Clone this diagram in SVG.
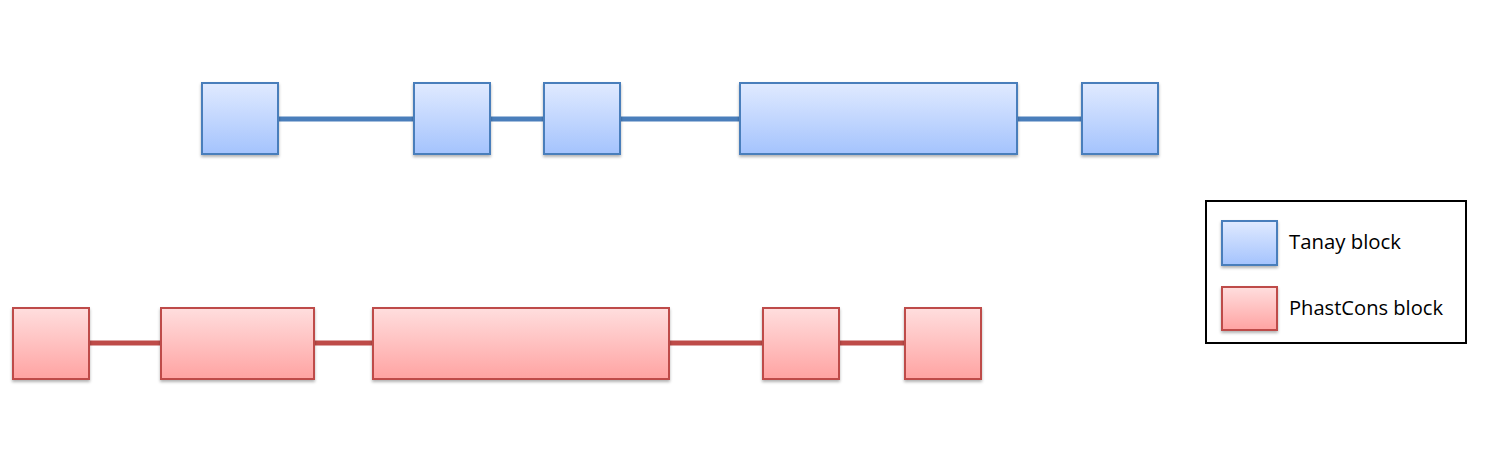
<svg xmlns="http://www.w3.org/2000/svg" width="1490" height="450" viewBox="0 0 1490 450">
<defs>
<linearGradient id="gb" x1="0" y1="0" x2="0" y2="1"><stop offset="0" stop-color="#e0eaff"/><stop offset="1" stop-color="#a4c3fd"/></linearGradient>
<linearGradient id="gr" x1="0" y1="0" x2="0" y2="1"><stop offset="0" stop-color="#ffdede"/><stop offset="1" stop-color="#ffa3a2"/></linearGradient>
<filter id="sh" x="-10%" y="-10%" width="120%" height="130%"><feDropShadow dx="0" dy="2" stdDeviation="1.5" flood-color="#000" flood-opacity="0.3"/></filter>
</defs>
<style>
.b{fill:url(#gb);stroke:#4a7ebb;stroke-width:2;filter:url(#sh)}
.r{fill:url(#gr);stroke:#be4b48;stroke-width:2;filter:url(#sh)}
.lb{stroke:#4a7ebb;stroke-width:5}
.lr{stroke:#be4b48;stroke-width:5}
.t{font-family:"Open Sans","Noto Sans",sans-serif;font-size:20px;fill:#000}
</style>
<rect width="1490" height="450" fill="#fff"/>
<g id="connectors">
<line class="lb" x1="278" y1="119" x2="414" y2="119"/>
<line class="lb" x1="490" y1="119" x2="544" y2="119"/>
<line class="lb" x1="620" y1="119" x2="740" y2="119"/>
<line class="lb" x1="1017" y1="119" x2="1082" y2="119"/>
<line class="lr" x1="89" y1="343" x2="161" y2="343"/>
<line class="lr" x1="314" y1="343" x2="373" y2="343"/>
<line class="lr" x1="669" y1="343" x2="763" y2="343"/>
<line class="lr" x1="839" y1="343" x2="905" y2="343"/>
</g>
<g id="tanay1"><rect class="b" x="202" y="83" width="76" height="71"/></g>
<g id="tanay2"><rect class="b" x="414" y="83" width="76" height="71"/></g>
<g id="tanay3"><rect class="b" x="544" y="83" width="76" height="71"/></g>
<g id="tanay4"><rect class="b" x="740" y="83" width="277" height="71"/></g>
<g id="tanay5"><rect class="b" x="1082" y="83" width="76" height="71"/></g>
<g id="phast1"><rect class="r" x="13" y="308" width="76" height="71"/></g>
<g id="phast2"><rect class="r" x="161" y="308" width="153" height="71"/></g>
<g id="phast3"><rect class="r" x="373" y="308" width="296" height="71"/></g>
<g id="phast4"><rect class="r" x="763" y="308" width="76" height="71"/></g>
<g id="phast5"><rect class="r" x="905" y="308" width="76" height="71"/></g>
<g id="legend">
<rect x="1206" y="201" width="260" height="142" fill="#fff" stroke="#000" stroke-width="2"/>
<rect class="b" x="1222" y="221" width="55" height="44"/>
<rect class="r" x="1222" y="287" width="55" height="43"/>
<text class="t" x="1289" y="249" textLength="112" lengthAdjust="spacingAndGlyphs">Tanay block</text>
<text class="t" x="1289" y="315" textLength="154" lengthAdjust="spacingAndGlyphs">PhastCons block</text>
</g>
</svg>
